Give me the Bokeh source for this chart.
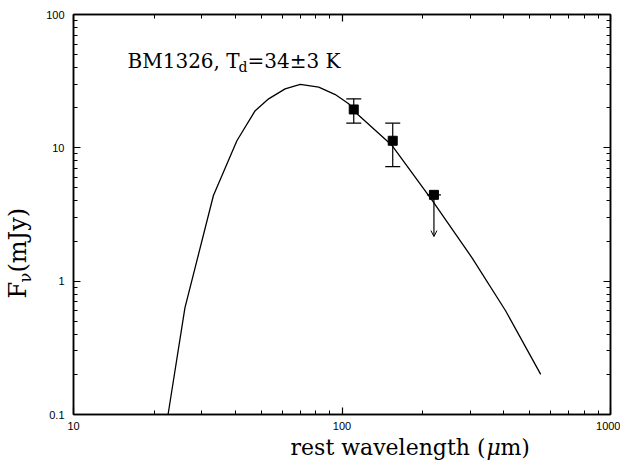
import math
from bokeh.plotting import figure
from bokeh.layouts import row, column
from bokeh.models import (LogAxis, FixedTicker, Label, Arrow, OpenHead, Range1d,
                          CustomJSTickFormatter)
from bokeh.embed import file_html
from bokeh.resources import INLINE

# ---- data ----
curve_wl = [22.5, 26.0, 33.2, 40.6, 47.5, 53.3, 61.4, 69.9, 81.9, 94.4, 105.9,
            113.7, 153.7, 216.7, 305.5, 406.7, 549.6]
curve_flux = [0.1, 0.63, 4.39, 11.3, 19.0, 23.3, 27.7, 29.9, 28.5, 25.1, 21.4,
              18.0, 10.4, 4.03, 1.49, 0.60, 0.2]

obs_wl = [110.6, 154.5, 220.0]
obs_flux = [19.4, 11.3, 4.44]

err_wl = [110.6, 154.5]
err_low = [15.3, 7.24]
err_high = [23.3, 15.3]

lim_wl = [220.0]
lim_flux = [4.44]
lim_end = [2.16]

x_major = [10, 100, 1000]
x_minor = [20, 30, 40, 50, 60, 70, 80, 90, 200, 300, 400, 500, 600, 700, 800, 900]
y_major = [0.1, 1, 10, 100]
y_minor = [0.2, 0.3, 0.4, 0.5, 0.6, 0.7, 0.8, 0.9, 2, 3, 4, 5, 6, 7, 8, 9,
           20, 30, 40, 50, 60, 70, 80, 90]

title_main = "BM1326, T"
title_sub = "d"
title_rest = "=34\u00b13 K"
xlabel_parts = ["rest wavelength (", "\u03bc", "m)"]
ylabel_parts = ["F", "\u03bd", "(mJy)"]

SERIF = "DejaVu Serif"
SANS = "Liberation Sans"

YW = 34          # width of the y-label strip
TOP_H = 436      # height of the plot row
XH = 24          # height of the x-label strip
TOTAL_W = 620

p = figure(width=TOTAL_W - YW, height=TOP_H, x_axis_type="log", y_axis_type="log",
           x_range=Range1d(10, 1000), y_range=Range1d(0.1, 100),
           output_backend="svg", toolbar_location=None,
           min_border_left=73 - YW, min_border_right=10,
           min_border_top=14, min_border_bottom=TOP_H - 414)
p.grid.visible = False
p.outline_line_color = "black"
p.outline_line_width = 1.5
p.background_fill_color = "white"
p.border_fill_color = "white"


def style_axis(ax, major, minor, show_labels):
    ax.ticker = FixedTicker(ticks=major, minor_ticks=minor)
    ax.major_tick_in = 7
    ax.major_tick_out = 0
    ax.minor_tick_in = 4
    ax.minor_tick_out = 0
    ax.axis_line_width = 1.5
    ax.axis_line_color = "black"
    ax.major_tick_line_color = "black"
    ax.minor_tick_line_color = "black"
    ax.major_tick_line_width = 1.2
    ax.minor_tick_line_width = 1.0
    if show_labels:
        ax.formatter = CustomJSTickFormatter(code="return String(tick)")
        ax.major_label_text_font = SANS
        ax.major_label_text_font_size = "11px"
        ax.major_label_text_color = "black"
    else:
        ax.formatter = CustomJSTickFormatter(code="return ''")
        ax.major_label_standoff = 0


style_axis(p.xaxis[0], x_major, x_minor, True)
p.xaxis[0].major_label_standoff = 7
style_axis(p.yaxis[0], y_major, y_minor, True)
p.yaxis[0].major_label_standoff = 9

top_ax = LogAxis()
style_axis(top_ax, x_major, x_minor, False)
p.add_layout(top_ax, "above")
right_ax = LogAxis()
style_axis(right_ax, y_major, y_minor, False)
p.add_layout(right_ax, "right")

# model curve
p.line(curve_wl, curve_flux, line_color="black", line_width=1.3)

# error bars
p.segment(x0=err_wl, y0=err_low, x1=err_wl, y1=err_high,
          line_color="black", line_width=1.2)
p.scatter(x=err_wl + err_wl, y=err_low + err_high, marker="dash", size=15,
          line_color="black", line_width=1.2)

# upper limit
p.scatter(x=lim_wl, y=lim_flux, marker="dash", size=14,
          line_color="black", line_width=1.2)
p.add_layout(Arrow(x_start=lim_wl[0], y_start=lim_flux[0],
                   x_end=lim_wl[0], y_end=lim_end[0],
                   line_color="black", line_width=1.2,
                   end=OpenHead(size=6, line_color="black", line_width=1)))

# data points
p.scatter(obs_wl, obs_flux, marker="square", size=9,
          fill_color="black", line_color="black")

# title inside the frame
TX, TY, TS = 54, 353.5, 20
p.add_layout(Label(x=TX, y=TY, x_units="screen", y_units="screen",
                   text=title_main, text_font=SERIF, text_font_size=f"{TS}px",
                   text_color="black", text_baseline="alphabetic"))
p.add_layout(Label(x=TX + 111, y=TY - 6, x_units="screen", y_units="screen",
                   text=title_sub, text_font=SERIF, text_font_size="14px",
                   text_color="black", text_baseline="alphabetic"))
p.add_layout(Label(x=TX + 120, y=TY, x_units="screen", y_units="screen",
                   text=title_rest, text_font=SERIF, text_font_size=f"{TS}px",
                   text_color="black", text_baseline="alphabetic"))


def strip(w, h):
    f = figure(width=w, height=h, x_range=Range1d(0, 1), y_range=Range1d(0, 1),
               output_backend="svg", toolbar_location=None,
               x_axis_location=None, y_axis_location=None,
               min_border=0, min_border_left=0, min_border_right=0,
               min_border_top=0, min_border_bottom=0)
    f.grid.visible = False
    f.outline_line_color = None
    f.background_fill_color = "white"
    f.border_fill_color = "white"
    return f


# y-axis label strip (rotated text, subscript nu)
yfig = strip(YW, TOP_H)
YS = 24
YB = 17.5
YY = 116
yfig.add_layout(Label(x=YB, y=YY, x_units="screen", y_units="screen", angle=math.pi / 2,
                      text=ylabel_parts[0], text_font=SERIF, text_font_size=f"{YS}px",
                      text_align="left", text_baseline="alphabetic", text_color="black"))
yfig.add_layout(Label(x=YB + 7.5, y=YY + 16, x_units="screen", y_units="screen",
                      angle=math.pi / 2,
                      text=ylabel_parts[1], text_font=SERIF, text_font_size="16px",
                      text_align="left", text_baseline="alphabetic", text_color="black"))
yfig.add_layout(Label(x=YB, y=YY + 26, x_units="screen", y_units="screen", angle=math.pi / 2,
                      text=ylabel_parts[2], text_font=SERIF, text_font_size=f"{YS}px",
                      text_align="left", text_baseline="alphabetic", text_color="black"))

# x-axis label strip (italic mu)
xfig = strip(TOTAL_W, XH)
XS = 22
XA = 485
XB = 13.5
xfig.add_layout(Label(x=XA, y=XB, x_units="screen", y_units="screen",
                      text=xlabel_parts[0], text_font=SERIF, text_font_size=f"{XS}px",
                      text_align="right", text_baseline="alphabetic", text_color="black"))
xfig.add_layout(Label(x=XA + 1, y=XB, x_units="screen", y_units="screen",
                      text=xlabel_parts[1], text_font=SERIF, text_font_size=f"{XS}px",
                      text_font_style="italic",
                      text_align="left", text_baseline="alphabetic", text_color="black"))
xfig.add_layout(Label(x=XA + 15, y=XB, x_units="screen", y_units="screen",
                      text=xlabel_parts[2], text_font=SERIF, text_font_size=f"{XS}px",
                      text_align="left", text_baseline="alphabetic", text_color="black"))

layout = column(row(yfig, p), xfig)
open("out.html", "w").write(file_html(layout, INLINE))
